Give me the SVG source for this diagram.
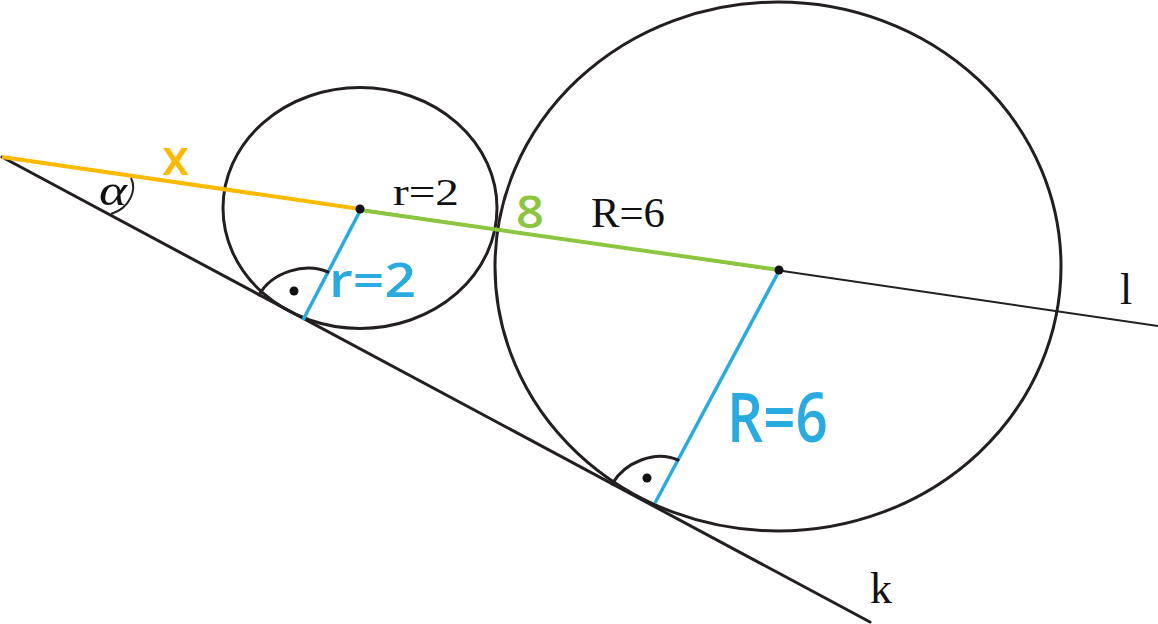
<svg xmlns="http://www.w3.org/2000/svg" width="1158" height="624" viewBox="0 0 1158 624">
<style>
.blk{fill:none;stroke:#231f20;stroke-width:3;stroke-linecap:round}
.thin{fill:none;stroke:#231f20;stroke-width:2}
.dot{fill:#111}
.serif{font-family:"Liberation Serif",serif;fill:#111}
.hand{font-family:"Open Sans","Liberation Sans",sans-serif;font-weight:600}
</style>
<rect width="1158" height="624" fill="#fff"/>
<g id="circle-small"><ellipse class="blk" cx="360" cy="208" rx="137" ry="120.5"/></g>
<g id="circle-big"><ellipse class="blk" cx="778" cy="266.5" rx="283" ry="264.5"/></g>
<g id="connectors">
<line id="line-l" class="thin" x1="2" y1="157" x2="1158" y2="326"/>
<line id="line-k" class="blk" x1="2" y1="157" x2="870" y2="622"/>
<line id="seg-x" x1="2" y1="157" x2="360" y2="209" stroke="#fbb900" stroke-width="4"/>
<line id="seg-8" x1="360" y1="210" x2="779" y2="270" stroke="#8cc540" stroke-width="4"/>
<line id="radius-r" x1="360" y1="211" x2="303" y2="320" stroke="#29abe2" stroke-width="3.5"/>
<line id="radius-R" x1="779" y1="271" x2="655" y2="503" stroke="#29abe2" stroke-width="3.5"/>
<path id="angle-alpha" class="thin" d="M131,178 C137,190 130,208 111,214"/>
<path id="right-angle-small" class="blk" d="M259,295 C272,272 305,262 328,272"/>
<path id="right-angle-big" class="blk" d="M612,484 C625,462 655,450 678,460"/>
</g>
<g id="points">
<circle class="dot" cx="360" cy="209" r="4.5"/>
<circle class="dot" cx="779" cy="270" r="4.5"/>
<circle class="dot" cx="294" cy="291" r="4.5"/>
<circle class="dot" cx="647" cy="478" r="4.5"/>
</g>
<g id="labels">
<text class="serif" x="99" y="205" font-size="44" font-style="italic" textLength="28" lengthAdjust="spacingAndGlyphs">α</text>
<text class="serif" x="393" y="205" font-size="38" textLength="66" lengthAdjust="spacingAndGlyphs">r=2</text>
<text class="serif" x="591" y="227" font-size="42" textLength="74" lengthAdjust="spacingAndGlyphs">R=6</text>
<text class="serif" x="1120" y="304" font-size="44">l</text>
<text class="serif" x="870" y="603" font-size="44">k</text>
<text class="hand" x="162" y="175" font-size="50" fill="#fbb900" textLength="27" lengthAdjust="spacingAndGlyphs">x</text>
<text class="hand" x="516" y="228" font-size="46" fill="#8cc540" textLength="28" lengthAdjust="spacingAndGlyphs">8</text>
<text class="hand" x="329" y="297" font-size="47" fill="#29abe2" textLength="87" lengthAdjust="spacingAndGlyphs">r=2</text>
<text class="hand" x="727" y="442" font-size="68" font-weight="500" fill="#29abe2" textLength="101" lengthAdjust="spacingAndGlyphs">R=6</text>
</g>
</svg>
